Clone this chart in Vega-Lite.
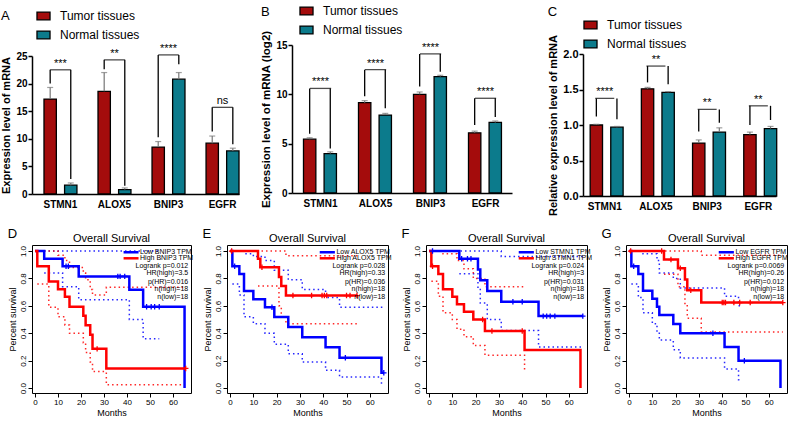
{
"$schema":"https://vega.github.io/schema/vega-lite/v6.json",
"padding":{"left":0,"top":2,"right":0,"bottom":0},
"config":{"font":"Liberation Sans","view":{"stroke":null},"axis":{"labelColor":"black","titleColor":"black","domainColor":"black","tickColor":"black","grid":false},"legend":{"labelColor":"black"},"title":{"color":"black"}},
"datasets":{
"spacer":[],
"barA":[
{"gene":"STMN1","group":"Tumor tissues","value":17.2,"hi":19.3,"leg":20.0,"top":22.5},
{"gene":"STMN1","group":"Normal tissues","value":1.6,"hi":2.0,"leg":2.7,"top":22.5},
{"gene":"ALOX5","group":"Tumor tissues","value":18.6,"hi":22.0,"leg":22.6,"top":24.3},
{"gene":"ALOX5","group":"Normal tissues","value":0.8,"hi":1.1,"leg":1.5,"top":24.3},
{"gene":"BNIP3","group":"Tumor tissues","value":8.5,"hi":9.5,"leg":10.3,"top":25.2},
{"gene":"BNIP3","group":"Normal tissues","value":20.8,"hi":22.0,"leg":23.5,"top":25.2},
{"gene":"EGFR","group":"Tumor tissues","value":9.2,"hi":10.5,"leg":11.3,"top":15.7},
{"gene":"EGFR","group":"Normal tissues","value":7.8,"hi":8.3,"leg":9.0,"top":15.7}],
"sigA":[{"gene":"STMN1","top":22.5,"label":"***"},{"gene":"ALOX5","top":24.3,"label":"**"},{"gene":"BNIP3","top":25.2,"label":"****"},{"gene":"EGFR","top":15.7,"label":"ns"}],
"barB":[
{"gene":"STMN1","group":"Tumor tissues","value":5.46,"hi":5.6,"leg":6.0,"top":10.6},
{"gene":"STMN1","group":"Normal tissues","value":4.0,"hi":4.17,"leg":4.5,"top":10.6},
{"gene":"ALOX5","group":"Tumor tissues","value":9.15,"hi":9.36,"leg":9.8,"top":12.5},
{"gene":"ALOX5","group":"Normal tissues","value":7.9,"hi":8.07,"leg":8.6,"top":12.5},
{"gene":"BNIP3","group":"Tumor tissues","value":10.0,"hi":10.24,"leg":10.8,"top":14.1},
{"gene":"BNIP3","group":"Normal tissues","value":11.8,"hi":11.93,"leg":12.3,"top":14.1},
{"gene":"EGFR","group":"Tumor tissues","value":6.1,"hi":6.27,"leg":6.9,"top":9.6},
{"gene":"EGFR","group":"Normal tissues","value":7.15,"hi":7.3,"leg":7.7,"top":9.6}],
"sigB":[{"gene":"STMN1","top":10.6,"label":"****"},{"gene":"ALOX5","top":12.5,"label":"****"},{"gene":"BNIP3","top":14.1,"label":"****"},{"gene":"EGFR","top":9.6,"label":"****"}],
"barC":[
{"gene":"STMN1","group":"Tumor tissues","value":1.0,"hi":1.01,"leg":1.12,"top":1.375},
{"gene":"STMN1","group":"Normal tissues","value":0.97,"hi":0.98,"leg":1.08,"top":1.375},
{"gene":"ALOX5","group":"Tumor tissues","value":1.51,"hi":1.53,"leg":1.6,"top":1.83},
{"gene":"ALOX5","group":"Normal tissues","value":1.46,"hi":1.47,"leg":1.575,"top":1.83},
{"gene":"BNIP3","group":"Tumor tissues","value":0.745,"hi":0.79,"leg":0.91,"top":1.22},
{"gene":"BNIP3","group":"Normal tissues","value":0.9,"hi":0.96,"leg":1.03,"top":1.22},
{"gene":"EGFR","group":"Tumor tissues","value":0.865,"hi":0.9,"leg":1.0,"top":1.27},
{"gene":"EGFR","group":"Normal tissues","value":0.95,"hi":0.98,"leg":1.07,"top":1.27}],
"sigC":[{"gene":"STMN1","top":1.375,"label":"****"},{"gene":"ALOX5","top":1.83,"label":"**"},{"gene":"BNIP3","top":1.22,"label":"**"},{"gene":"EGFR","top":1.27,"label":"**"}],
"kmmain":[
{"p":"D","g":"Low","m":0,"s":1},{"p":"D","g":"Low","m":4,"s":0.944},{"p":"D","g":"Low","m":12,"s":0.889},{"p":"D","g":"Low","m":19,"s":0.815},{"p":"D","g":"Low","m":41,"s":0.717},{"p":"D","g":"Low","m":47,"s":0.593},{"p":"D","g":"Low","m":65,"s":0},
{"p":"D","g":"High","m":0,"s":1},{"p":"D","g":"High","m":1,"s":0.889},{"p":"D","g":"High","m":6,"s":0.778},{"p":"D","g":"High","m":10,"s":0.722},{"p":"D","g":"High","m":13,"s":0.667},{"p":"D","g":"High","m":15,"s":0.593},{"p":"D","g":"High","m":21,"s":0.528},{"p":"D","g":"High","m":22,"s":0.458},{"p":"D","g":"High","m":24,"s":0.389},{"p":"D","g":"High","m":25,"s":0.286},{"p":"D","g":"High","m":31,"s":0.143},{"p":"D","g":"High","m":65.5,"s":0.143},
{"p":"E","g":"Low","m":0,"s":1},{"p":"E","g":"Low","m":1,"s":0.889},{"p":"E","g":"Low","m":4,"s":0.833},{"p":"E","g":"Low","m":6,"s":0.708},{"p":"E","g":"Low","m":10,"s":0.649},{"p":"E","g":"Low","m":15,"s":0.59},{"p":"E","g":"Low","m":19,"s":0.519},{"p":"E","g":"Low","m":25,"s":0.445},{"p":"E","g":"Low","m":31,"s":0.371},{"p":"E","g":"Low","m":41,"s":0.297},{"p":"E","g":"Low","m":47,"s":0.222},{"p":"E","g":"Low","m":65,"s":0.111},{"p":"E","g":"Low","m":66,"s":0.111},
{"p":"E","g":"High","m":0,"s":1},{"p":"E","g":"High","m":12,"s":0.944},{"p":"E","g":"High","m":13,"s":0.882},{"p":"E","g":"High","m":21,"s":0.81},{"p":"E","g":"High","m":22,"s":0.745},{"p":"E","g":"High","m":24,"s":0.675},{"p":"E","g":"High","m":54.5,"s":0.675},
{"p":"F","g":"Low","m":0,"s":1},{"p":"F","g":"Low","m":13,"s":0.944},{"p":"F","g":"Low","m":21,"s":0.866},{"p":"F","g":"Low","m":22,"s":0.787},{"p":"F","g":"Low","m":25,"s":0.708},{"p":"F","g":"Low","m":31,"s":0.63},{"p":"F","g":"Low","m":47,"s":0.525},{"p":"F","g":"Low","m":66,"s":0.525},
{"p":"F","g":"High","m":0,"s":1},{"p":"F","g":"High","m":1,"s":0.889},{"p":"F","g":"High","m":4,"s":0.833},{"p":"F","g":"High","m":6,"s":0.722},{"p":"F","g":"High","m":10,"s":0.667},{"p":"F","g":"High","m":12,"s":0.611},{"p":"F","g":"High","m":15,"s":0.556},{"p":"F","g":"High","m":19,"s":0.5},{"p":"F","g":"High","m":24,"s":0.417},{"p":"F","g":"High","m":41,"s":0.278},{"p":"F","g":"High","m":65,"s":0},
{"p":"G","g":"Low","m":0,"s":1},{"p":"G","g":"Low","m":1,"s":0.889},{"p":"G","g":"Low","m":4,"s":0.833},{"p":"G","g":"Low","m":6,"s":0.711},{"p":"G","g":"Low","m":10,"s":0.652},{"p":"G","g":"Low","m":12,"s":0.593},{"p":"G","g":"Low","m":13,"s":0.533},{"p":"G","g":"Low","m":19,"s":0.467},{"p":"G","g":"Low","m":22,"s":0.4},{"p":"G","g":"Low","m":41,"s":0.3},{"p":"G","g":"Low","m":47,"s":0.2},{"p":"G","g":"Low","m":65,"s":0},
{"p":"G","g":"High","m":0,"s":1},{"p":"G","g":"High","m":15,"s":0.938},{"p":"G","g":"High","m":21,"s":0.875},{"p":"G","g":"High","m":24,"s":0.792},{"p":"G","g":"High","m":25,"s":0.713},{"p":"G","g":"High","m":31,"s":0.624},{"p":"G","g":"High","m":66,"s":0.624}],
"kmcens":[
{"p":"D","g":"Low","m":13.5,"s":0.889},{"p":"D","g":"Low","m":14.5,"s":0.889},{"p":"D","g":"Low","m":36,"s":0.815},{"p":"D","g":"Low","m":37,"s":0.815},{"p":"D","g":"Low","m":39,"s":0.815},{"p":"D","g":"Low","m":48.5,"s":0.593},{"p":"D","g":"Low","m":50.5,"s":0.593},{"p":"D","g":"Low","m":52,"s":0.593},{"p":"D","g":"Low","m":54,"s":0.593},
{"p":"D","g":"High","m":27,"s":0.286},{"p":"D","g":"High","m":65.5,"s":0.143},
{"p":"E","g":"Low","m":2,"s":0.889},{"p":"E","g":"Low","m":18,"s":0.59},{"p":"E","g":"Low","m":49.5,"s":0.222},{"p":"E","g":"Low","m":66,"s":0.111},
{"p":"E","g":"High","m":0.7,"s":1},{"p":"E","g":"High","m":13.7,"s":0.882},{"p":"E","g":"High","m":27,"s":0.675},{"p":"E","g":"High","m":35,"s":0.675},{"p":"E","g":"High","m":39.5,"s":0.675},{"p":"E","g":"High","m":40.5,"s":0.675},{"p":"E","g":"High","m":41.5,"s":0.675},{"p":"E","g":"High","m":50,"s":0.675},{"p":"E","g":"High","m":51.5,"s":0.675},{"p":"E","g":"High","m":54.5,"s":0.675},
{"p":"F","g":"Low","m":1.5,"s":1},{"p":"F","g":"Low","m":14,"s":0.944},{"p":"F","g":"Low","m":16.5,"s":0.944},{"p":"F","g":"Low","m":18,"s":0.944},{"p":"F","g":"Low","m":36,"s":0.63},{"p":"F","g":"Low","m":40,"s":0.63},{"p":"F","g":"Low","m":49,"s":0.525},{"p":"F","g":"Low","m":50.5,"s":0.525},{"p":"F","g":"Low","m":52,"s":0.525},{"p":"F","g":"Low","m":54,"s":0.525},{"p":"F","g":"Low","m":66,"s":0.525},
{"p":"F","g":"High","m":1.5,"s":0.889},{"p":"F","g":"High","m":23,"s":0.5},{"p":"F","g":"High","m":27,"s":0.417},{"p":"F","g":"High","m":40,"s":0.417},
{"p":"G","g":"Low","m":2,"s":0.889},{"p":"G","g":"Low","m":36,"s":0.4},{"p":"G","g":"Low","m":49.5,"s":0.2},
{"p":"G","g":"High","m":0.7,"s":1},{"p":"G","g":"High","m":14,"s":1},{"p":"G","g":"High","m":18,"s":0.938},{"p":"G","g":"High","m":22,"s":0.875},{"p":"G","g":"High","m":26.5,"s":0.713},{"p":"G","g":"High","m":40,"s":0.624},{"p":"G","g":"High","m":40.7,"s":0.624},{"p":"G","g":"High","m":41.4,"s":0.624},{"p":"G","g":"High","m":45,"s":0.624},{"p":"G","g":"High","m":47.5,"s":0.624},{"p":"G","g":"High","m":52,"s":0.624},{"p":"G","g":"High","m":66,"s":0.624}],
"kmci":[
{"p":"D","g":"Low","b":"u","m":0,"s":1},{"p":"D","g":"Low","b":"u","m":54,"s":1},
{"p":"D","g":"Low","b":"l","m":4,"s":0.84},{"p":"D","g":"Low","b":"l","m":12,"s":0.74},{"p":"D","g":"Low","b":"l","m":19,"s":0.645},{"p":"D","g":"Low","b":"l","m":41,"s":0.5},{"p":"D","g":"Low","b":"l","m":47,"s":0.36},{"p":"D","g":"Low","b":"l","m":54,"s":0.36},
{"p":"D","g":"High","b":"u","m":0,"s":1},{"p":"D","g":"High","b":"u","m":10,"s":0.97},{"p":"D","g":"High","b":"u","m":13,"s":0.93},{"p":"D","g":"High","b":"u","m":15,"s":0.88},{"p":"D","g":"High","b":"u","m":21,"s":0.84},{"p":"D","g":"High","b":"u","m":22,"s":0.79},{"p":"D","g":"High","b":"u","m":24,"s":0.72},{"p":"D","g":"High","b":"u","m":25,"s":0.68},{"p":"D","g":"High","b":"u","m":31,"s":0.735},{"p":"D","g":"High","b":"u","m":65,"s":0.735},
{"p":"D","g":"High","b":"l","m":1,"s":0.76},{"p":"D","g":"High","b":"l","m":6,"s":0.59},{"p":"D","g":"High","b":"l","m":10,"s":0.52},{"p":"D","g":"High","b":"l","m":13,"s":0.46},{"p":"D","g":"High","b":"l","m":15,"s":0.4},{"p":"D","g":"High","b":"l","m":21,"s":0.33},{"p":"D","g":"High","b":"l","m":22,"s":0.26},{"p":"D","g":"High","b":"l","m":24,"s":0.19},{"p":"D","g":"High","b":"l","m":25,"s":0.12},{"p":"D","g":"High","b":"l","m":31,"s":0.025},{"p":"D","g":"High","b":"l","m":65,"s":0.025},
{"p":"E","g":"Low","b":"u","m":0,"s":1},{"p":"E","g":"Low","b":"u","m":6,"s":0.98},{"p":"E","g":"Low","b":"u","m":10,"s":0.96},{"p":"E","g":"Low","b":"u","m":15,"s":0.93},{"p":"E","g":"Low","b":"u","m":19,"s":0.86},{"p":"E","g":"Low","b":"u","m":25,"s":0.79},{"p":"E","g":"Low","b":"u","m":31,"s":0.72},{"p":"E","g":"Low","b":"u","m":41,"s":0.66},{"p":"E","g":"Low","b":"u","m":47,"s":0.59},{"p":"E","g":"Low","b":"u","m":66,"s":0.6},
{"p":"E","g":"Low","b":"l","m":1,"s":0.76},{"p":"E","g":"Low","b":"l","m":4,"s":0.68},{"p":"E","g":"Low","b":"l","m":6,"s":0.52},{"p":"E","g":"Low","b":"l","m":10,"s":0.47},{"p":"E","g":"Low","b":"l","m":15,"s":0.4},{"p":"E","g":"Low","b":"l","m":19,"s":0.32},{"p":"E","g":"Low","b":"l","m":25,"s":0.25},{"p":"E","g":"Low","b":"l","m":31,"s":0.19},{"p":"E","g":"Low","b":"l","m":41,"s":0.13},{"p":"E","g":"Low","b":"l","m":47,"s":0.08},{"p":"E","g":"Low","b":"l","m":65,"s":0.03},{"p":"E","g":"Low","b":"l","m":66,"s":0.03},
{"p":"E","g":"High","b":"u","m":0,"s":1},{"p":"E","g":"High","b":"u","m":24,"s":0.965},{"p":"E","g":"High","b":"u","m":55,"s":0.965},
{"p":"E","g":"High","b":"l","m":12,"s":0.745},{"p":"E","g":"High","b":"l","m":21,"s":0.6},{"p":"E","g":"High","b":"l","m":22,"s":0.52},{"p":"E","g":"High","b":"l","m":24,"s":0.47},{"p":"E","g":"High","b":"l","m":55,"s":0.47},
{"p":"F","g":"Low","b":"u","m":0,"s":1},{"p":"F","g":"Low","b":"u","m":31,"s":0.96},{"p":"F","g":"Low","b":"u","m":66,"s":0.96},
{"p":"F","g":"Low","b":"l","m":13,"s":0.835},{"p":"F","g":"Low","b":"l","m":21,"s":0.73},{"p":"F","g":"Low","b":"l","m":22,"s":0.62},{"p":"F","g":"Low","b":"l","m":25,"s":0.5},{"p":"F","g":"Low","b":"l","m":31,"s":0.42},{"p":"F","g":"Low","b":"l","m":47,"s":0.3},{"p":"F","g":"Low","b":"l","m":66,"s":0.3},
{"p":"F","g":"High","b":"u","m":1,"s":1},{"p":"F","g":"High","b":"u","m":6,"s":0.98},{"p":"F","g":"High","b":"u","m":12,"s":0.93},{"p":"F","g":"High","b":"u","m":15,"s":0.87},{"p":"F","g":"High","b":"u","m":19,"s":0.8},{"p":"F","g":"High","b":"u","m":24,"s":0.74},{"p":"F","g":"High","b":"u","m":41,"s":0.74},
{"p":"F","g":"High","b":"l","m":1,"s":0.78},{"p":"F","g":"High","b":"l","m":4,"s":0.67},{"p":"F","g":"High","b":"l","m":6,"s":0.55},{"p":"F","g":"High","b":"l","m":10,"s":0.5},{"p":"F","g":"High","b":"l","m":12,"s":0.43},{"p":"F","g":"High","b":"l","m":15,"s":0.375},{"p":"F","g":"High","b":"l","m":19,"s":0.31},{"p":"F","g":"High","b":"l","m":24,"s":0.24},{"p":"F","g":"High","b":"l","m":41,"s":0.115},
{"p":"G","g":"Low","b":"u","m":1,"s":1},{"p":"G","g":"Low","b":"u","m":6,"s":0.98},{"p":"G","g":"Low","b":"u","m":12,"s":0.93},{"p":"G","g":"Low","b":"u","m":13,"s":0.84},{"p":"G","g":"Low","b":"u","m":19,"s":0.8},{"p":"G","g":"Low","b":"u","m":22,"s":0.73},{"p":"G","g":"Low","b":"u","m":41,"s":0.67},{"p":"G","g":"Low","b":"u","m":47,"s":0.6},{"p":"G","g":"Low","b":"u","m":48,"s":0.6},
{"p":"G","g":"Low","b":"l","m":1,"s":0.76},{"p":"G","g":"Low","b":"l","m":4,"s":0.66},{"p":"G","g":"Low","b":"l","m":6,"s":0.55},{"p":"G","g":"Low","b":"l","m":10,"s":0.47},{"p":"G","g":"Low","b":"l","m":12,"s":0.4},{"p":"G","g":"Low","b":"l","m":13,"s":0.35},{"p":"G","g":"Low","b":"l","m":19,"s":0.28},{"p":"G","g":"Low","b":"l","m":22,"s":0.22},{"p":"G","g":"Low","b":"l","m":41,"s":0.14},{"p":"G","g":"Low","b":"l","m":47,"s":0.06},{"p":"G","g":"Low","b":"l","m":48,"s":0.06},
{"p":"G","g":"High","b":"u","m":0,"s":1},{"p":"G","g":"High","b":"u","m":31,"s":0.97},{"p":"G","g":"High","b":"u","m":66,"s":0.97},
{"p":"G","g":"High","b":"l","m":15,"s":0.83},{"p":"G","g":"High","b":"l","m":21,"s":0.74},{"p":"G","g":"High","b":"l","m":24,"s":0.6},{"p":"G","g":"High","b":"l","m":25,"s":0.51},{"p":"G","g":"High","b":"l","m":31,"s":0.41},{"p":"G","g":"High","b":"l","m":66,"s":0.41}],
"kmleg":[
{"p":"D","g":"Low","t":"Low BNIP3 TPM","m":38.5,"m2":45,"s":0.991},{"p":"D","g":"High","t":"High BNIP3 TPM","m":38.5,"m2":45,"s":0.947},
{"p":"E","g":"Low","t":"Low ALOX5 TPM","m":38.5,"m2":45,"s":0.991},{"p":"E","g":"High","t":"High ALOX5 TPM","m":38.5,"m2":45,"s":0.947},
{"p":"F","g":"Low","t":"Low STMN1 TPM","m":38.5,"m2":45,"s":0.991},{"p":"F","g":"High","t":"High STMN1 TPM","m":38.5,"m2":45,"s":0.947},
{"p":"G","g":"Low","t":"Low EGFR TPM","m":38.5,"m2":45,"s":0.991},{"p":"G","g":"High","t":"High EGFR TPM","m":38.5,"m2":45,"s":0.947}],
"kmstats":[
{"p":"D","t":"Logrank p=0.012","m":66.6,"s":0.893},{"p":"D","t":"HR(high)=3.5","m":66.6,"s":0.837},{"p":"D","t":"p(HR)=0.016","m":66.6,"s":0.776},{"p":"D","t":"n(high)=18","m":66.6,"s":0.72},{"p":"D","t":"n(low)=18","m":66.6,"s":0.662},
{"p":"E","t":"Logrank p=0.028","m":66.6,"s":0.893},{"p":"E","t":"HR(high)=0.33","m":66.6,"s":0.837},{"p":"E","t":"p(HR)=0.036","m":66.6,"s":0.776},{"p":"E","t":"n(high)=18","m":66.6,"s":0.72},{"p":"E","t":"n(low)=18","m":66.6,"s":0.662},
{"p":"F","t":"Logrank p=0.024","m":66.6,"s":0.893},{"p":"F","t":"HR(high)=3","m":66.6,"s":0.837},{"p":"F","t":"p(HR)=0.031","m":66.6,"s":0.776},{"p":"F","t":"n(high)=18","m":66.6,"s":0.72},{"p":"F","t":"n(low)=18","m":66.6,"s":0.662},
{"p":"G","t":"Logrank p=0.0069","m":66.6,"s":0.893},{"p":"G","t":"HR(high)=0.26","m":66.6,"s":0.837},{"p":"G","t":"p(HR)=0.012","m":66.6,"s":0.776},{"p":"G","t":"n(high)=18","m":66.6,"s":0.72},{"p":"G","t":"n(low)=18","m":66.6,"s":0.662}],
"kmlet":[{"p":"D","t":"D","m":-11.8,"s":1.125},{"p":"E","t":"E","m":-11.8,"s":1.125},{"p":"F","t":"F","m":-11.8,"s":1.125},{"p":"G","t":"G","m":-11.8,"s":1.125}]
},
"vconcat":[
{"hconcat":[
 {"hconcat":[
  {"vconcat":[
   {"width":1,"height":6,"data":{"name":"spacer"},"mark":"point","encoding":{}},
   {"width":207,"height":138,
   "title":{"text":"A","anchor":"start","frame":"bounds","fontSize":13,"fontWeight":"normal","offset":-14.5},
   "encoding":{"x":{"field":"gene","type":"nominal","sort":["STMN1","ALOX5","BNIP3","EGFR"],"title":null,"scale":{"paddingInner":0.39,"paddingOuter":0.111,"align":1},"axis":{"labelAngle":0,"labelFontSize":10,"labelFontWeight":"bold","ticks":false,"domainWidth":1.5,"labelPadding":5}}},
   "layer":[
    {"data":{"name":"barA"},"mark":{"type":"bar","stroke":"black","strokeWidth":1.3},"encoding":{
      "xOffset":{"field":"group","type":"nominal","sort":["Tumor tissues","Normal tissues"],"scale":{"paddingInner":0.4}},
      "y":{"field":"value","type":"quantitative","title":"Expression level of mRNA","scale":{"domain":[0,25],"nice":false},"axis":{"values":[0,5,10,15,20,25],"tickCount":6,"tickSize":4,"tickWidth":1.5,"domainWidth":1.5,"labelFontSize":10,"labelFontWeight":"bold","titleFontSize":11,"titleFontWeight":"bold","labelPadding":1,"titlePadding":4,"labelOverlap":false}},
      "color":{"field":"group","type":"nominal","scale":{"domain":["Tumor tissues","Normal tissues"],"range":["#A40C0C","#0C7B8C"]},"legend":{"orient":"none","legendX":4,"legendY":-47.5,"title":null,"direction":"vertical","symbolType":"M-1,-0.6H1V0.6H-1Z","symbolSize":170,"symbolStrokeColor":"black","symbolStrokeWidth":1.3,"labelFontSize":12,"labelOffset":9,"rowPadding":4,"padding":0}}}},
    {"data":{"name":"barA"},"mark":{"type":"rule","color":"#777","strokeWidth":1.2},"encoding":{"xOffset":{"field":"group","type":"nominal","sort":["Tumor tissues","Normal tissues"],"scale":{"paddingInner":0.4}},"y":{"field":"value","type":"quantitative","title":"Expression level of mRNA"},"y2":{"field":"hi"}}},
    {"data":{"name":"barA"},"mark":{"type":"tick","color":"#777","thickness":1.2,"size":6},"encoding":{"xOffset":{"field":"group","type":"nominal","sort":["Tumor tissues","Normal tissues"],"scale":{"paddingInner":0.4}},"y":{"field":"hi","type":"quantitative","title":"Expression level of mRNA"}}},
    {"data":{"name":"barA"},"mark":{"type":"rule","color":"black","strokeWidth":1.3},"encoding":{"xOffset":{"field":"group","type":"nominal","sort":["Tumor tissues","Normal tissues"],"scale":{"paddingInner":0.4}},"y":{"field":"leg","type":"quantitative","title":"Expression level of mRNA"},"y2":{"field":"top"}}},
    {"data":{"name":"sigA"},"mark":{"type":"tick","color":"black","thickness":1.3,"size":20.6},"encoding":{"y":{"field":"top","type":"quantitative","title":"Expression level of mRNA"}}},
    {"data":{"name":"sigA"},"mark":{"type":"text","fontSize":11,"baseline":"alphabetic","dy":-3},"encoding":{"y":{"field":"top","type":"quantitative","title":"Expression level of mRNA"},"text":{"field":"label"}}}
   ]}
  ],"spacing":0,"align":"none","resolve":{"scale":{"color":"independent"},"legend":{"color":"independent"}}},
  {"vconcat":[
   {"width":1,"height":1,"data":{"name":"spacer"},"mark":"point","encoding":{}},
   {"width":220,"height":148,
   "title":{"text":"B","anchor":"start","frame":"bounds","fontSize":13,"fontWeight":"normal","offset":-15.2},
   "encoding":{"x":{"field":"gene","type":"nominal","sort":["STMN1","ALOX5","BNIP3","EGFR"],"title":null,"scale":{"paddingInner":0.38,"paddingOuter":0.19,"align":0.55},"axis":{"labelAngle":0,"labelFontSize":10,"labelFontWeight":"bold","ticks":false,"domainWidth":1.5,"labelPadding":5}}},
   "layer":[
    {"data":{"name":"barB"},"mark":{"type":"bar","stroke":"black","strokeWidth":1.3},"encoding":{
      "xOffset":{"field":"group","type":"nominal","sort":["Tumor tissues","Normal tissues"],"scale":{"paddingInner":0.4}},
      "y":{"field":"value","type":"quantitative","title":"Expression level of mRNA (log2)","scale":{"domain":[0,15],"nice":false},"axis":{"values":[0,5,10,15],"tickCount":4,"tickSize":4,"tickWidth":1.5,"domainWidth":1.5,"labelFontSize":10,"labelFontWeight":"bold","titleFontSize":11.5,"titleFontWeight":"bold","labelPadding":1,"titlePadding":4,"labelOverlap":false}},
      "color":{"field":"group","type":"nominal","scale":{"domain":["Tumor tissues","Normal tissues"],"range":["#A40C0C","#0C7B8C"]},"legend":{"orient":"none","legendX":7,"legendY":-41.5,"title":null,"direction":"vertical","symbolType":"M-1,-0.6H1V0.6H-1Z","symbolSize":170,"symbolStrokeColor":"black","symbolStrokeWidth":1.3,"labelFontSize":12,"labelOffset":9,"rowPadding":4,"padding":0}}}},
    {"data":{"name":"barB"},"mark":{"type":"rule","color":"#777","strokeWidth":1.2},"encoding":{"xOffset":{"field":"group","type":"nominal","sort":["Tumor tissues","Normal tissues"],"scale":{"paddingInner":0.4}},"y":{"field":"value","type":"quantitative","title":"Expression level of mRNA (log2)"},"y2":{"field":"hi"}}},
    {"data":{"name":"barB"},"mark":{"type":"tick","color":"#777","thickness":1.2,"size":6},"encoding":{"xOffset":{"field":"group","type":"nominal","sort":["Tumor tissues","Normal tissues"],"scale":{"paddingInner":0.4}},"y":{"field":"hi","type":"quantitative","title":"Expression level of mRNA (log2)"}}},
    {"data":{"name":"barB"},"mark":{"type":"rule","color":"black","strokeWidth":1.3},"encoding":{"xOffset":{"field":"group","type":"nominal","sort":["Tumor tissues","Normal tissues"],"scale":{"paddingInner":0.4}},"y":{"field":"leg","type":"quantitative","title":"Expression level of mRNA (log2)"},"y2":{"field":"top"}}},
    {"data":{"name":"sigB"},"mark":{"type":"tick","color":"black","thickness":1.3,"size":21.2},"encoding":{"y":{"field":"top","type":"quantitative","title":"Expression level of mRNA (log2)"}}},
    {"data":{"name":"sigB"},"mark":{"type":"text","fontSize":11,"baseline":"alphabetic","dy":-3},"encoding":{"y":{"field":"top","type":"quantitative","title":"Expression level of mRNA (log2)"},"text":{"field":"label"}}}
   ]}
  ],"spacing":0,"align":"none","resolve":{"scale":{"color":"independent"},"legend":{"color":"independent"}}}
 ],"spacing":20,"align":"none","resolve":{"scale":{"color":"independent"},"legend":{"color":"independent"}}},
 {"vconcat":[
  {"width":1,"height":4,"data":{"name":"spacer"},"mark":"point","encoding":{}},
  {"width":193,"height":142,
   "title":{"text":"C","anchor":"start","frame":"bounds","fontSize":13,"fontWeight":"normal","offset":-1.5},
   "encoding":{"x":{"field":"gene","type":"nominal","sort":["STMN1","ALOX5","BNIP3","EGFR"],"title":null,"scale":{"paddingInner":0.43,"paddingOuter":0.1,"align":0.7},"axis":{"labelAngle":0,"labelFontSize":10,"labelFontWeight":"bold","ticks":false,"domainWidth":1.5,"labelPadding":5}}},
   "layer":[
    {"data":{"name":"barC"},"mark":{"type":"bar","stroke":"black","strokeWidth":1.3},"encoding":{
      "xOffset":{"field":"group","type":"nominal","sort":["Tumor tissues","Normal tissues"],"scale":{"paddingInner":0.4}},
      "y":{"field":"value","type":"quantitative","title":"Relative expression level of mRNA","scale":{"domain":[0,2],"nice":false},"axis":{"values":[0,0.5,1,1.5,2],"tickCount":5,"format":".1f","tickSize":4,"tickWidth":1.5,"domainWidth":1.5,"labelFontSize":11,"labelFontWeight":"bold","titleFontSize":11,"titleFontWeight":"bold","labelPadding":1,"titlePadding":4,"labelOverlap":false}},
      "color":{"field":"group","type":"nominal","scale":{"domain":["Tumor tissues","Normal tissues"],"range":["#A40C0C","#0C7B8C"]},"legend":{"orient":"none","legendX":0,"legendY":-36.5,"title":null,"direction":"vertical","symbolType":"M-1,-0.6H1V0.6H-1Z","symbolSize":170,"symbolStrokeColor":"black","symbolStrokeWidth":1.3,"labelFontSize":12,"labelOffset":9,"rowPadding":4,"padding":0}}}},
    {"data":{"name":"barC"},"mark":{"type":"rule","color":"#777","strokeWidth":1.2},"encoding":{"xOffset":{"field":"group","type":"nominal","sort":["Tumor tissues","Normal tissues"],"scale":{"paddingInner":0.4}},"y":{"field":"value","type":"quantitative","title":"Relative expression level of mRNA"},"y2":{"field":"hi"}}},
    {"data":{"name":"barC"},"mark":{"type":"tick","color":"#777","thickness":1.2,"size":6},"encoding":{"xOffset":{"field":"group","type":"nominal","sort":["Tumor tissues","Normal tissues"],"scale":{"paddingInner":0.4}},"y":{"field":"hi","type":"quantitative","title":"Relative expression level of mRNA"}}},
    {"data":{"name":"barC"},"mark":{"type":"rule","color":"black","strokeWidth":1.3},"encoding":{"xOffset":{"field":"group","type":"nominal","sort":["Tumor tissues","Normal tissues"],"scale":{"paddingInner":0.4}},"y":{"field":"leg","type":"quantitative","title":"Relative expression level of mRNA"},"y2":{"field":"top"}}},
    {"data":{"name":"sigC"},"mark":{"type":"tick","color":"black","thickness":1.3,"size":19},"encoding":{"y":{"field":"top","type":"quantitative","title":"Relative expression level of mRNA"}}},
    {"data":{"name":"sigC"},"mark":{"type":"text","fontSize":11,"baseline":"alphabetic","dy":-3},"encoding":{"y":{"field":"top","type":"quantitative","title":"Relative expression level of mRNA"},"text":{"field":"label"}}}
   ]}
 ],"spacing":0,"align":"none","resolve":{"scale":{"color":"independent"},"legend":{"color":"independent"}}}
],"spacing":35,"align":"none","resolve":{"scale":{"color":"independent"},"legend":{"color":"independent"}}},
{"hconcat":[
 {"width":159,"height":148,"view":{"stroke":"black","strokeWidth":1},
  "title":{"text":"Overall Survival","fontSize":11,"fontWeight":"normal","offset":-16},
  "encoding":{
   "x":{"field":"m","type":"quantitative","title":"Months","scale":{"domain":[-1.3,67.8],"nice":false,"zero":false},"axis":{"values":[0,10,20,30,40,50,60],"domain":false,"tickSize":4,"labelFontSize":8,"labelPadding":1,"titleFontSize":9,"titleFontWeight":"normal","titlePadding":2,"labelFlush":false}},
   "y":{"field":"s","type":"quantitative","title":"Percent survival","scale":{"domain":[-0.036,1.044],"nice":false,"zero":false},"axis":{"values":[0,0.2,0.4,0.6,0.8,1],"format":".1f","domain":false,"tickSize":4,"labelFontSize":8,"labelAngle":-90,"labelAlign":"center","labelBaseline":"bottom","labelPadding":1,"titleFontSize":9,"titleFontWeight":"normal","titlePadding":2}},
   "color":{"field":"g","type":"nominal","scale":{"domain":["Low","High"],"range":["#0000FF","#FF0000"]},"legend":null}},
  "layer":[
   {"data":{"name":"kmci"},"transform":[{"filter":"datum.p=='D'"}],"mark":{"type":"line","interpolate":"step-after","strokeWidth":1.5,"strokeDash":[1.5,3],"opacity":0.85},"encoding":{"detail":{"field":"b"}}},
   {"data":{"name":"kmmain"},"transform":[{"filter":"datum.p=='D'"}],"mark":{"type":"line","interpolate":"step-after","strokeWidth":2.5}},
   {"data":{"name":"kmcens"},"transform":[{"filter":"datum.p=='D'"}],"mark":{"type":"point","shape":"M0,-1V1M-1,0H1","size":30,"strokeWidth":1.3,"filled":false,"opacity":1}},
   {"data":{"name":"kmleg"},"transform":[{"filter":"datum.p=='D'"}],"mark":{"type":"rule","strokeWidth":2.5},"encoding":{"x2":{"field":"m2"}}},
   {"data":{"name":"kmleg"},"transform":[{"filter":"datum.p=='D'"}],"mark":{"type":"text","align":"left","baseline":"middle","fontSize":7,"dx":1.5,"color":"black"},"encoding":{"x":{"field":"m2","type":"quantitative","title":"Months"},"color":{"value":"black"},"text":{"field":"t","type":"nominal"}}},
   {"data":{"name":"kmstats"},"transform":[{"filter":"datum.p=='D'"}],"mark":{"type":"text","align":"right","baseline":"middle","fontSize":7},"encoding":{"color":{"value":"black"},"text":{"field":"t","type":"nominal"}}},
   {"data":{"name":"kmlet"},"transform":[{"filter":"datum.p=='D'"}],"mark":{"type":"text","fontSize":13,"align":"left","baseline":"middle"},"encoding":{"color":{"value":"black"},"text":{"field":"t","type":"nominal"}}}
  ]},
 {"width":161,"height":148,"view":{"stroke":"black","strokeWidth":1},
  "title":{"text":"Overall Survival","fontSize":11,"fontWeight":"normal","offset":-16},
  "encoding":{
   "x":{"field":"m","type":"quantitative","title":"Months","scale":{"domain":[-1.3,67.8],"nice":false,"zero":false},"axis":{"values":[0,10,20,30,40,50,60],"domain":false,"tickSize":4,"labelFontSize":8,"labelPadding":1,"titleFontSize":9,"titleFontWeight":"normal","titlePadding":2,"labelFlush":false}},
   "y":{"field":"s","type":"quantitative","title":"Percent survival","scale":{"domain":[-0.036,1.044],"nice":false,"zero":false},"axis":{"values":[0,0.2,0.4,0.6,0.8,1],"format":".1f","domain":false,"tickSize":4,"labelFontSize":8,"labelAngle":-90,"labelAlign":"center","labelBaseline":"bottom","labelPadding":1,"titleFontSize":9,"titleFontWeight":"normal","titlePadding":2}},
   "color":{"field":"g","type":"nominal","scale":{"domain":["Low","High"],"range":["#0000FF","#FF0000"]},"legend":null}},
  "layer":[
   {"data":{"name":"kmci"},"transform":[{"filter":"datum.p=='E'"}],"mark":{"type":"line","interpolate":"step-after","strokeWidth":1.5,"strokeDash":[1.5,3],"opacity":0.85},"encoding":{"detail":{"field":"b"}}},
   {"data":{"name":"kmmain"},"transform":[{"filter":"datum.p=='E'"}],"mark":{"type":"line","interpolate":"step-after","strokeWidth":2.5}},
   {"data":{"name":"kmcens"},"transform":[{"filter":"datum.p=='E'"}],"mark":{"type":"point","shape":"M0,-1V1M-1,0H1","size":30,"strokeWidth":1.3,"filled":false,"opacity":1}},
   {"data":{"name":"kmleg"},"transform":[{"filter":"datum.p=='E'"}],"mark":{"type":"rule","strokeWidth":2.5},"encoding":{"x2":{"field":"m2"}}},
   {"data":{"name":"kmleg"},"transform":[{"filter":"datum.p=='E'"}],"mark":{"type":"text","align":"left","baseline":"middle","fontSize":7,"dx":1.5},"encoding":{"x":{"field":"m2","type":"quantitative","title":"Months"},"color":{"value":"black"},"text":{"field":"t","type":"nominal"}}},
   {"data":{"name":"kmstats"},"transform":[{"filter":"datum.p=='E'"}],"mark":{"type":"text","align":"right","baseline":"middle","fontSize":7},"encoding":{"color":{"value":"black"},"text":{"field":"t","type":"nominal"}}},
   {"data":{"name":"kmlet"},"transform":[{"filter":"datum.p=='E'"}],"mark":{"type":"text","fontSize":13,"align":"left","baseline":"middle"},"encoding":{"color":{"value":"black"},"text":{"field":"t","type":"nominal"}}}
  ]},
 {"width":161,"height":148,"view":{"stroke":"black","strokeWidth":1},
  "title":{"text":"Overall Survival","fontSize":11,"fontWeight":"normal","offset":-16},
  "encoding":{
   "x":{"field":"m","type":"quantitative","title":"Months","scale":{"domain":[-1.3,67.8],"nice":false,"zero":false},"axis":{"values":[0,10,20,30,40,50,60],"domain":false,"tickSize":4,"labelFontSize":8,"labelPadding":1,"titleFontSize":9,"titleFontWeight":"normal","titlePadding":2,"labelFlush":false}},
   "y":{"field":"s","type":"quantitative","title":"Percent survival","scale":{"domain":[-0.036,1.044],"nice":false,"zero":false},"axis":{"values":[0,0.2,0.4,0.6,0.8,1],"format":".1f","domain":false,"tickSize":4,"labelFontSize":8,"labelAngle":-90,"labelAlign":"center","labelBaseline":"bottom","labelPadding":1,"titleFontSize":9,"titleFontWeight":"normal","titlePadding":2}},
   "color":{"field":"g","type":"nominal","scale":{"domain":["Low","High"],"range":["#0000FF","#FF0000"]},"legend":null}},
  "layer":[
   {"data":{"name":"kmci"},"transform":[{"filter":"datum.p=='F'"}],"mark":{"type":"line","interpolate":"step-after","strokeWidth":1.5,"strokeDash":[1.5,3],"opacity":0.85},"encoding":{"detail":{"field":"b"}}},
   {"data":{"name":"kmmain"},"transform":[{"filter":"datum.p=='F'"}],"mark":{"type":"line","interpolate":"step-after","strokeWidth":2.5}},
   {"data":{"name":"kmcens"},"transform":[{"filter":"datum.p=='F'"}],"mark":{"type":"point","shape":"M0,-1V1M-1,0H1","size":30,"strokeWidth":1.3,"filled":false,"opacity":1}},
   {"data":{"name":"kmleg"},"transform":[{"filter":"datum.p=='F'"}],"mark":{"type":"rule","strokeWidth":2.5},"encoding":{"x2":{"field":"m2"}}},
   {"data":{"name":"kmleg"},"transform":[{"filter":"datum.p=='F'"}],"mark":{"type":"text","align":"left","baseline":"middle","fontSize":7,"dx":1.5},"encoding":{"x":{"field":"m2","type":"quantitative","title":"Months"},"color":{"value":"black"},"text":{"field":"t","type":"nominal"}}},
   {"data":{"name":"kmstats"},"transform":[{"filter":"datum.p=='F'"}],"mark":{"type":"text","align":"right","baseline":"middle","fontSize":7},"encoding":{"color":{"value":"black"},"text":{"field":"t","type":"nominal"}}},
   {"data":{"name":"kmlet"},"transform":[{"filter":"datum.p=='F'"}],"mark":{"type":"text","fontSize":13,"align":"left","baseline":"middle"},"encoding":{"color":{"value":"black"},"text":{"field":"t","type":"nominal"}}}
  ]},
 {"width":161,"height":148,"view":{"stroke":"black","strokeWidth":1},
  "title":{"text":"Overall Survival","fontSize":11,"fontWeight":"normal","offset":-16},
  "encoding":{
   "x":{"field":"m","type":"quantitative","title":"Months","scale":{"domain":[-1.3,67.8],"nice":false,"zero":false},"axis":{"values":[0,10,20,30,40,50,60],"domain":false,"tickSize":4,"labelFontSize":8,"labelPadding":1,"titleFontSize":9,"titleFontWeight":"normal","titlePadding":2,"labelFlush":false}},
   "y":{"field":"s","type":"quantitative","title":"Percent survival","scale":{"domain":[-0.036,1.044],"nice":false,"zero":false},"axis":{"values":[0,0.2,0.4,0.6,0.8,1],"format":".1f","domain":false,"tickSize":4,"labelFontSize":8,"labelAngle":-90,"labelAlign":"center","labelBaseline":"bottom","labelPadding":1,"titleFontSize":9,"titleFontWeight":"normal","titlePadding":2}},
   "color":{"field":"g","type":"nominal","scale":{"domain":["Low","High"],"range":["#0000FF","#FF0000"]},"legend":null}},
  "layer":[
   {"data":{"name":"kmci"},"transform":[{"filter":"datum.p=='G'"}],"mark":{"type":"line","interpolate":"step-after","strokeWidth":1.5,"strokeDash":[1.5,3],"opacity":0.85},"encoding":{"detail":{"field":"b"}}},
   {"data":{"name":"kmmain"},"transform":[{"filter":"datum.p=='G'"}],"mark":{"type":"line","interpolate":"step-after","strokeWidth":2.5}},
   {"data":{"name":"kmcens"},"transform":[{"filter":"datum.p=='G'"}],"mark":{"type":"point","shape":"M0,-1V1M-1,0H1","size":30,"strokeWidth":1.3,"filled":false,"opacity":1}},
   {"data":{"name":"kmleg"},"transform":[{"filter":"datum.p=='G'"}],"mark":{"type":"rule","strokeWidth":2.5},"encoding":{"x2":{"field":"m2"}}},
   {"data":{"name":"kmleg"},"transform":[{"filter":"datum.p=='G'"}],"mark":{"type":"text","align":"left","baseline":"middle","fontSize":7,"dx":1.5},"encoding":{"x":{"field":"m2","type":"quantitative","title":"Months"},"color":{"value":"black"},"text":{"field":"t","type":"nominal"}}},
   {"data":{"name":"kmstats"},"transform":[{"filter":"datum.p=='G'"}],"mark":{"type":"text","align":"right","baseline":"middle","fontSize":7},"encoding":{"color":{"value":"black"},"text":{"field":"t","type":"nominal"}}},
   {"data":{"name":"kmlet"},"transform":[{"filter":"datum.p=='G'"}],"mark":{"type":"text","fontSize":13,"align":"left","baseline":"middle"},"encoding":{"color":{"value":"black"},"text":{"field":"t","type":"nominal"}}}
  ]}
],"spacing":8,"align":"none","resolve":{"scale":{"color":"independent"},"legend":{"color":"independent"}}}
],
"spacing":11,
"align":"none",
"resolve":{"scale":{"color":"independent"},"legend":{"color":"independent"}}
}
